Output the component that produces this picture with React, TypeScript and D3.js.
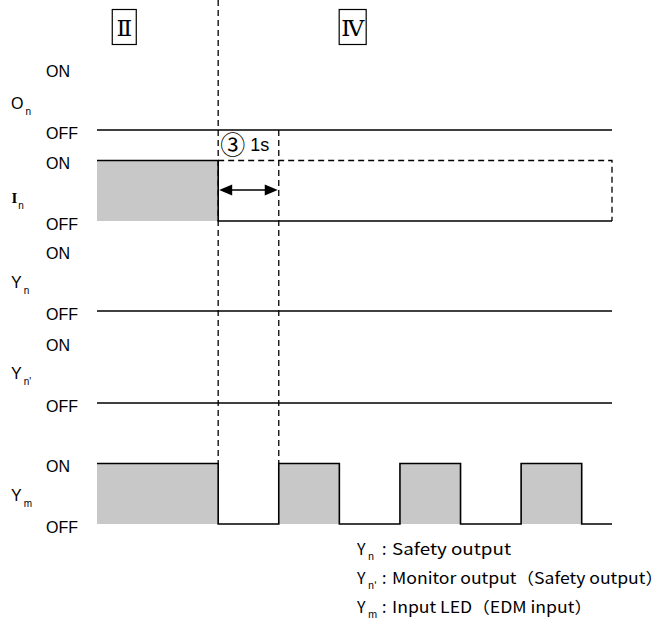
import React from "react";
import * as d3 from "d3";

// ---------- data ----------
const timeDomain = [0, 8.5];
const signalNames = ["O", "I", "Y", "Y", "Y"];
const signalSubs = ["n", "n", "n", "n'", "m"];
const stateLabels = ["ON", "OFF"];
const waveTimes = [
  [0, 8.5],
  [0, 2, 8.5],
  [0, 8.5],
  [0, 8.5],
  [0, 2, 3, 4, 5, 6, 7, 8, 8.5],
];
const waveLevels = [
  [0, 0],
  [1, 0, 0],
  [0, 0],
  [0, 0],
  [1, 0, 1, 0, 1, 0, 1, 0, 0],
];
const pendingSpan = [2, 8.5]; // dashed I_n (not input)
const markerTimes = [2, 3];
const delayMark = "③";
const delayText = "1s";
const phaseLabels = ["Ⅱ", "Ⅳ"];
const phaseTimes = [0.45, 4.22];
const legendSymbols = ["Y", "Y", "Y"];
const legendSubs = ["n", "n'", "m"];
const legendTexts = ["Safety output", "Monitor output（Safety output）", "Input LED（EDM input）"];

// ---------- layout ----------
const W = 668;
const H = 624;
const rowOn = [69, 160.5, 251, 343, 463.5];
const rowOff = [130, 221, 311, 403, 524];
const nameBase = [109, 203, 288, 379, 501];
const boxWidths = [24, 27];
const legendBase = [555, 584, 613];
const legendLens = [119, 271, 200];
const fill = "#c8c8c8";

export default function App() {
  const x = d3.scaleLinear().domain(timeDomain).range([97, 612]);
  const rows = signalNames.map((_, i) =>
    d3.scaleLinear().domain([0, 1]).range([rowOff[i], rowOn[i]])
  );

  const sans = "'Liberation Sans', Arial, sans-serif";
  const jp = "'Noto Sans CJK JP', sans-serif";

  const ax = markerTimes.map((t) => x(t));
  const arrowY = 190;

  return (
    <svg
      width={W}
      height={H}
      style={{ position: "absolute", left: 0, top: 0, background: "#fff" }}
    >
      {/* phase boxes */}
      {phaseLabels.map((p, i) => {
        const cx = x(phaseTimes[i]);
        const w = boxWidths[i];
        return (
          <g key={"ph" + i}>
            <rect x={cx - w / 2} y={9.5} width={w} height={35} fill="none" stroke="#000" strokeWidth={1.2} />
            <text x={cx} y={36} textAnchor="middle" fontFamily="'DejaVu Serif', 'Liberation Serif', serif" fontSize={23}>
              {p}
            </text>
          </g>
        );
      })}

      {/* waveforms */}
      {signalNames.map((name, i) => {
        const y = rows[i];
        const pts = waveTimes[i].map((t, k) => [t, waveLevels[i][k]] as [number, number]);
        const line = d3.line<[number, number]>().x((d) => x(d[0])).y((d) => y(d[1])).curve(d3.curveStepAfter);
        const area = d3
          .area<[number, number]>()
          .x((d) => x(d[0]))
          .y0(y(0))
          .y1((d) => y(d[1]))
          .curve(d3.curveStepAfter);
        const isI = name === "I";
        return (
          <g key={"w" + i}>
            <path d={area(pts) || ""} fill={fill} stroke="none" />
            <path d={line(pts) || ""} fill="none" stroke="#000" strokeWidth={1.6} />
            <text x={46} y={y(1) + 8} fontFamily={sans} fontSize={16}>{stateLabels[0]}</text>
            <text x={46} y={y(0) + 9} fontFamily={sans} fontSize={16}>{stateLabels[1]}</text>
            <text
              x={isI ? 11.5 : 11}
              y={nameBase[i]}
              fontFamily={isI ? "'Liberation Serif', serif" : sans}
              fontWeight={isI ? 700 : 400}
              fontSize={isI ? 15 : 16}
            >
              {name}
              <tspan dx={isI ? 1 : 2} dy={6} fontSize={10} fontFamily={sans} fontWeight={400}>{signalSubs[i]}</tspan>
            </text>
          </g>
        );
      })}

      {/* pending input (dashed) */}
      <path
        d={`M${x(pendingSpan[0])},${rows[1](1)}H${x(pendingSpan[1])}V${rows[1](0)}`}
        fill="none"
        stroke="#000"
        strokeWidth={1.3}
        strokeDasharray="6,4"
      />

      {/* vertical dashed markers */}
      <line x1={ax[0]} x2={ax[0]} y1={0} y2={rows[4](1)} stroke="#000" strokeWidth={1.3} strokeDasharray="6,4" />
      <line x1={ax[1]} x2={ax[1]} y1={rows[0](0)} y2={rows[4](1)} stroke="#000" strokeWidth={1.3} strokeDasharray="6,4" />

      {/* delay arrow */}
      <line x1={ax[0] + 6} x2={ax[1] - 6} y1={arrowY} y2={arrowY} stroke="#000" strokeWidth={1.6} />
      <polygon points={`${ax[0] + 1},${arrowY} ${ax[0] + 14},${arrowY - 5.5} ${ax[0] + 14},${arrowY + 5.5}`} fill="#000" />
      <polygon points={`${ax[1] - 1},${arrowY} ${ax[1] - 14},${arrowY - 5.5} ${ax[1] - 14},${arrowY + 5.5}`} fill="#000" />
      <text x={ax[0] + 2} y={154} fontFamily={jp} fontSize={25}>{delayMark}</text>
      <text x={ax[0] + 32} y={151} fontFamily={sans} fontSize={18}>{delayText}</text>

      {/* legend */}
      {legendTexts.map((t, i) => (
        <g key={"lg" + i}>
          <text x={357} y={legendBase[i]} fontFamily={jp} fontSize={16}>{legendSymbols[i]}</text>
          <text x={368} y={legendBase[i] + 5} fontFamily={jp} fontSize={10}>{legendSubs[i]}</text>
          <text x={382} y={legendBase[i]} fontFamily={jp} fontSize={16}>:</text>
          <text x={392} y={legendBase[i]} fontFamily={jp} fontSize={16} textLength={legendLens[i]} lengthAdjust="spacingAndGlyphs">
            {t}
          </text>
        </g>
      ))}
    </svg>
  );
}
